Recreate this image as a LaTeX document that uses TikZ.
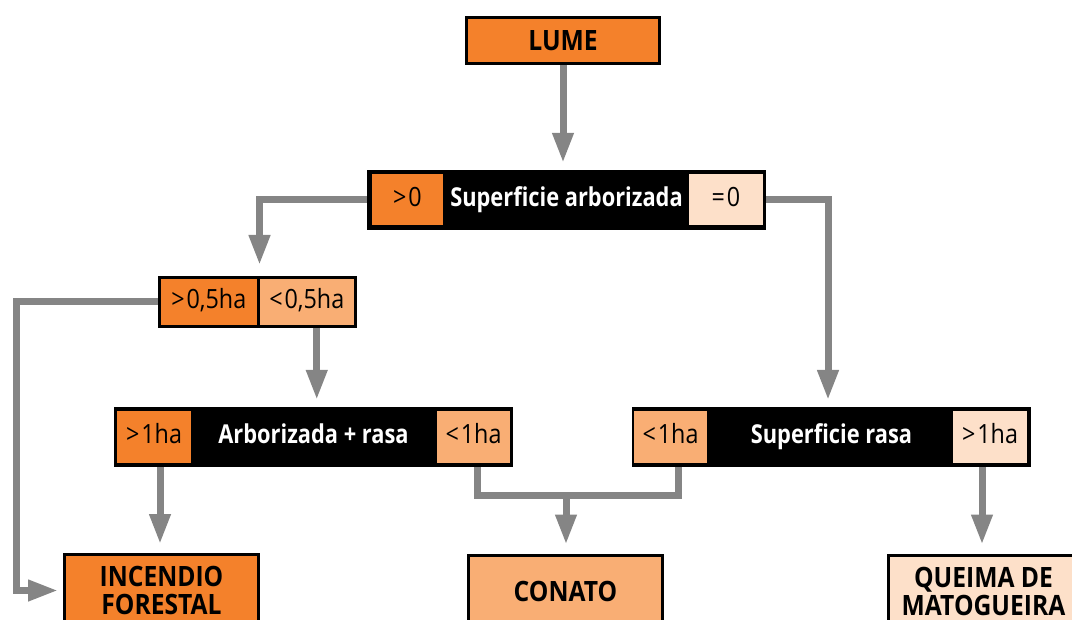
\documentclass[tikz,border=0pt]{standalone}
\usepackage{fontspec}
\setmainfont{Open Sans}
\newfontfamily\condfont{Open Sans}[FakeStretch=0.88]
\newfontfamily\narrowfont{Open Sans}[FakeStretch=0.84]
\usetikzlibrary{arrows.meta,calc,backgrounds}

\definecolor{fireorange}{HTML}{F4812B}
\definecolor{lightorange}{HTML}{F9AE74}
\definecolor{peach}{HTML}{FDE0C9}
\definecolor{flowgray}{HTML}{858585}

\tikzset{
  outcome/.style={draw=black, line width=3pt, inner sep=0pt, align=center,
    font=\condfont\bfseries\fontsize{28}{28}\selectfont},
  bar/.style={fill=black, inner sep=0pt, text=white, text height=19pt, text depth=5pt,
    font=\narrowfont\bfseries\fontsize{26}{28}\selectfont},
  cell/.style={inner sep=0pt, text height=19pt, text depth=5pt,
    font=\condfont\fontsize{26.5}{28}\selectfont},
  halfcell/.style={cell, draw=black, line width=3pt, minimum height=49pt},
  flow/.style={draw=flowgray, line width=7pt},
  conn/.style={flow, -{Triangle[width=20pt,length=30pt]}}
}

\begin{document}
\begin{tikzpicture}[x=1pt, y=-1pt]
\useasboundingbox (0,0) rectangle (1072,620);
\clip (0,0) rectangle (1072,620);

% decision bars with their branch cells
\node[bar, minimum width=399pt, minimum height=60pt] (sa) at (566.5,200) {Superficie arborizada};
\node[cell, fill=fireorange, minimum width=71pt, minimum height=51pt] (gt0) at (407.5,199.5) {>\kern2pt0};
\node[cell, fill=peach, minimum width=74pt, minimum height=51pt] (eq0) at (726,199.5) {=\kern2pt0};

\node[bar, minimum width=399pt, minimum height=60pt] (ar) at (313.5,437) {Arborizada + rasa};
\node[cell, fill=fireorange, minimum width=74pt, minimum height=52pt] (gt1a) at (154,437) {>\kern2pt1ha};
\node[cell, fill=lightorange, minimum width=73pt, minimum height=52pt] (lt1a) at (473.5,437) {<\kern2pt1ha};

\node[bar, minimum width=399pt, minimum height=60pt] (sr) at (831.5,437) {Superficie rasa};
\node[cell, fill=lightorange, minimum width=73pt, minimum height=52pt] (lt1b) at (670.5,437) {<\kern2pt1ha};
\node[cell, fill=peach, minimum width=74pt, minimum height=52pt] (gt1b) at (990,437) {>\kern2pt1ha};

% outcome boxes
\node[outcome, fill=fireorange, minimum width=193pt, minimum height=46pt] (lume) at (563,40.5) {LUME};
\node[outcome, fill=fireorange, minimum width=194pt, minimum height=72pt] (inc) at (161.5,590.5) {INCENDIO\\FORESTAL};
\node[outcome, fill=lightorange, minimum width=194pt, minimum height=72pt] (con) at (565.5,591) {CONATO};
\node[outcome, fill=peach, minimum width=190pt, minimum height=72pt] (que) at (983.5,591) {QUEIMA DE\\MATOGUEIRA};

% small area split
\node[halfcell, fill=fireorange, minimum width=98.5pt] (gt05) at (208.75,302) {>\kern2pt0,5ha};
\node[halfcell, fill=lightorange, minimum width=97.5pt] (lt05) at (306.75,302) {<\kern2pt0,5ha};

% connectors, kept behind the boxes
\coordinate (rdrop) at (828,407);
\coordinate (mj) at (566,495);
\begin{scope}[on background layer]
  \draw[conn, shorten >=7pt] (lume.south) -- (lume.south |- sa.north);
  \draw[conn, shorten >=11pt] (sa.west) -| (gt05.north east);
  \draw[conn, shorten >=7pt] (sa.east) -| (rdrop);
  \draw[conn, shorten >=5pt] (gt05.west) -- ++(-142,0) |- (inc.west);
  \draw[conn, shorten >=7pt] ([xshift=10pt]lt05.south) -- ([xshift=10pt]lt05.south |- ar.north);
  \draw[conn, shorten >=9pt] ([xshift=6pt]gt1a.south) -- ([xshift=6pt]gt1a.south |- inc.north);
  \draw[flow] ([xshift=3.5pt]lt1a.south) |- ([xshift=7.5pt]lt1b.south |- mj) -- ([xshift=7.5pt]lt1b.south);
  \draw[conn, shorten >=9pt] (mj) -- (mj |- con.north);
  \draw[conn, shorten >=9pt] ([xshift=-8pt]gt1b.south) -- ([xshift=-8pt]gt1b.south |- que.north);
\end{scope}
\end{tikzpicture}
\end{document}
